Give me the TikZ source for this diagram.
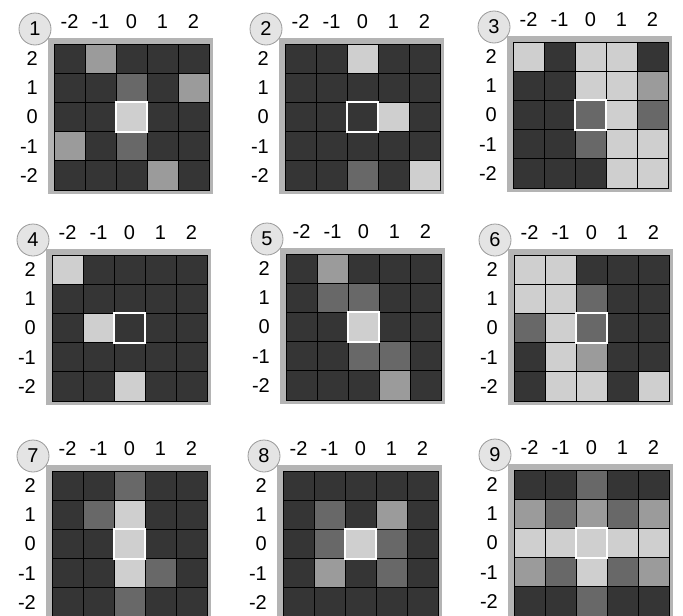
\documentclass[tikz,border=0pt]{standalone}
\usepackage{fontspec}
\setmainfont{Liberation Sans}
\usepackage{tikz}

\definecolor{cD}{HTML}{353535}
\definecolor{cM}{HTML}{686868}
\definecolor{cL}{HTML}{9B9B9B}
\definecolor{cW}{HTML}{CFCFCF}
\definecolor{framegray}{HTML}{B4B4B4}
\definecolor{badgefill}{HTML}{E4E4E4}
\definecolor{badgeline}{HTML}{9A9A9A}

\def\cw{31}
\def\ch{29.2}

% #1,#2: top left corner of the grid, #3: panel number, #4: shades, row by row from the top
\newcommand{\kernelpanel}[4]{%
  \begin{scope}[shift={(#1,#2)}]
    \fill[framegray] (-6,-6) rectangle (5*\cw+4,5*\ch+4);
    \foreach \s [count=\i from 0] in {#4} {
      \pgfmathtruncatemacro\cc{mod(\i,5)}
      \pgfmathtruncatemacro\rr{\i/5}
      \filldraw[cell,fill=c\s] (\cc*\cw,\rr*\ch) rectangle ++(\cw,\ch);
    }
    \draw[centre] (2*\cw,2*\ch) rectangle ++(\cw,\ch);
    \node[badge] (num#3) at (-19,-15) {#3};
    \foreach \v [count=\k from 0] in {-2,-1,0,1,2}
      \node[tick] (col#3-\k) at (\k*\cw+0.5*\cw,-22) {\v};
    \foreach \v [count=\k from 0] in {2,1,0,-1,-2}
      \node[tick,anchor=east] (row#3-\k) at (-16,\k*\ch+0.5*\ch) {\v};
  \end{scope}
}

\begin{document}
\begin{tikzpicture}[x=1pt,y=-1pt,font=\fontsize{20}{24}\selectfont,
    cell/.style={draw=black,line width=0.7pt},
    centre/.style={draw=white,line width=2pt},
    badge/.style={circle,draw=badgeline,fill=badgefill,line width=0.8pt,
      minimum size=32pt,inner sep=0pt},
    tick/.style={inner sep=0pt}]
  \useasboundingbox (0,0) rectangle (683,616);
  \clip (0,0) rectangle (683,616);

  % top row
  \kernelpanel{54}{44}{1}{D,L,D,D,D, D,D,M,D,L, D,D,W,D,D, L,D,M,D,D, D,D,D,L,D}
  \kernelpanel{285}{44}{2}{D,D,W,D,D, D,D,D,D,D, D,D,D,W,D, D,D,D,D,D, D,D,M,D,W}
  \kernelpanel{513}{42}{3}{W,D,W,W,D, D,D,W,W,L, D,D,M,W,M, D,D,M,W,W, D,D,D,W,W}
  % middle row
  \kernelpanel{52}{255}{4}{W,D,D,D,D, D,D,D,D,D, D,W,D,D,D, D,D,D,D,D, D,D,W,D,D}
  \kernelpanel{286}{254}{5}{D,L,D,D,D, D,M,M,D,D, D,D,W,D,D, D,D,M,M,D, D,D,D,L,D}
  \kernelpanel{514}{255}{6}{W,W,D,D,D, W,W,M,D,D, M,W,M,D,D, D,W,L,D,D, D,W,W,D,W}
  % bottom row, cut off at the lower edge
  \kernelpanel{52}{471}{7}{D,D,M,D,D, D,M,W,D,D, D,D,W,D,D, D,D,W,M,D, D,D,M,D,D}
  \kernelpanel{283}{471}{8}{D,D,D,D,D, D,M,D,L,D, D,M,W,M,D, D,L,D,M,D, D,D,D,D,D}
  \kernelpanel{514}{470}{9}{D,D,M,D,D, L,M,L,M,L, W,W,W,W,W, L,M,W,M,L, D,D,M,D,D}
\end{tikzpicture}
\end{document}
